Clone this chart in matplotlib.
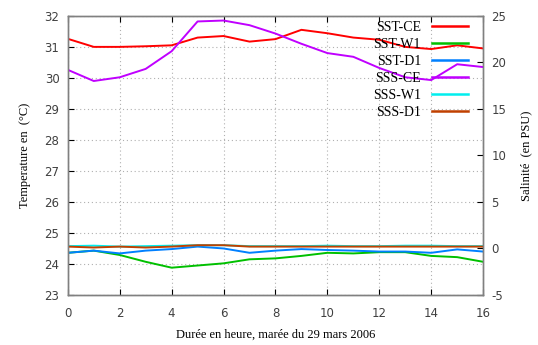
import matplotlib
matplotlib.use("Agg")
import matplotlib.pyplot as plt

plt.rcParams["axes.unicode_minus"] = False

# heures de mesure
hours = list(range(17))

# température (°C), axe de gauche
sst_ce = [31.26, 31.0, 31.0, 31.02, 31.05, 31.3, 31.35, 31.17, 31.25, 31.55,
          31.44, 31.3, 31.23, 31.0, 30.93, 31.05, 30.95]
sst_w1 = [24.36, 24.43, 24.29, 24.07, 23.88, 23.95, 24.02, 24.15, 24.18, 24.26,
          24.36, 24.34, 24.38, 24.38, 24.26, 24.22, 24.07]
sst_d1 = [24.36, 24.43, 24.34, 24.43, 24.48, 24.56, 24.5, 24.36, 24.43, 24.48,
          24.45, 24.43, 24.4, 24.4, 24.36, 24.47, 24.4]

# salinité (PSU), axe de droite
sss_ce = [19.2, 18.0, 18.4, 19.3, 21.2, 24.4, 24.5, 24.0, 23.1, 22.0,
          21.0, 20.6, 19.4, 18.4, 18.1, 19.8, 19.5]
sss_w1 = [0.25, 0.3, 0.2, 0.25, 0.3, 0.35, 0.35, 0.25, 0.25, 0.25,
          0.3, 0.25, 0.25, 0.3, 0.3, 0.25, 0.25]
sss_d1 = [0.2, 0.1, 0.2, 0.1, 0.2, 0.35, 0.35, 0.2, 0.2, 0.2,
          0.2, 0.2, 0.2, 0.2, 0.2, 0.2, 0.2]

serif = "Liberation Serif"
tickfont = "DejaVu Sans"

fig = plt.figure(figsize=(5.38, 3.45), dpi=100)
ax = fig.add_axes([0.126, 0.145, 0.772, 0.809])
ax2 = ax.twinx()

lw = 1.4
l1, = ax.plot(hours, sst_ce, color="#ff0000", lw=lw, label="SST-CE")
l2, = ax.plot(hours, sst_w1, color="#00c000", lw=lw, label="SST-W1")
l3, = ax.plot(hours, sst_d1, color="#0080ff", lw=lw, label="SST-D1")
l4, = ax2.plot(hours, sss_ce, color="#c000ff", lw=lw, label="SSS-CE")
l5, = ax2.plot(hours, sss_w1, color="#00eeee", lw=lw, label="SSS-W1")
l6, = ax2.plot(hours, sss_d1, color="#c04000", lw=lw, label="SSS-D1")

ax.set_xlim(0, 16)
ax.set_ylim(23, 32)
ax2.set_ylim(-5, 25)
ax.set_xticks(range(0, 17, 2))
ax.set_yticks(range(23, 33))
ax2.set_yticks(range(-5, 26, 5))

ax.grid(True, color="#b0b0b0", linestyle=(0, (1, 2.5)), lw=0.8)
for a in (ax, ax2):
    for s in a.spines.values():
        s.set_color("#808080")
        s.set_linewidth(1.0)
ax.tick_params(axis="both", direction="in", length=4, labelsize=8.5, width=0.8,
               top=True, pad=6)
ax.tick_params(axis="x", pad=9)
ax.tick_params(axis="y", right=False)
ax2.tick_params(axis="y", direction="in", length=4, labelsize=8.5, width=0.8, pad=6)
for lab in ax.get_xticklabels() + ax.get_yticklabels() + ax2.get_yticklabels():
    lab.set_fontfamily(tickfont)
    lab.set_color("#404040")

ax.set_xlabel("Durée en heure, marée du 29 mars 2006", fontfamily=serif,
              fontsize=9, labelpad=6)
ax.set_ylabel("Temperature en  (°C)", fontfamily=serif, fontsize=9, labelpad=10)
ax2.set_ylabel("Salinité  (en PSU)", fontfamily=serif, fontsize=9, labelpad=10)

leg = ax2.legend(handles=[l1, l2, l3, l4, l5, l6], loc="upper right",
                 bbox_to_anchor=(0.994, 1.026), frameon=False, markerfirst=False,
                 prop={"family": serif, "size": 10}, handlelength=2.6,
                 labelspacing=0.28, handletextpad=0.8)
for h in leg.get_lines():
    h.set_linewidth(1.8)

fig.savefig("out.png", dpi=100)
